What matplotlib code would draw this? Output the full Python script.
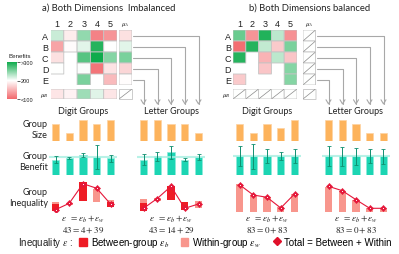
import numpy as np
import matplotlib
matplotlib.use("Agg")
import matplotlib.pyplot as plt
from matplotlib.colors import LinearSegmentedColormap, Normalize
from matplotlib.patches import Patch
from matplotlib.lines import Line2D

plt.rcParams['font.family'] = ['Liberation Sans', 'DejaVu Sans']
plt.rcParams['mathtext.fontset'] = 'stix'

nan = np.nan
digit_labels = ['1', '2', '3', '4', '5']
letter_labels = ['A', 'B', 'C', 'D', 'E']

# ---------------- data ----------------
benefit_a = np.array([
    [222, 188, 245, 118, 130],
    [140, 197, 212, 290, 200],
    [180, nan, 270, 308, 250],
    [200, nan, 202, 110, 182],
    [nan, nan, 255, nan, 155],
])
mu_letter_a = np.array([180, 212, 255, 172, 198])
mu_digit_a = np.array([183, 192, 240, 213, 183])

benefit_b = np.array([
    [262, 130, 292, 228, 128],
    [105, 290, 225, 165, 255],
    [290, nan, 150, 228, 162],
    [nan, nan, 162, nan, 250],
    [165, nan, nan, nan, 250],
])

size_a_digit = [4, 2, 5, 4, 5]
size_a_letter = [5, 5, 4, 4, 2]
size_b_digit = [4, 2, 4, 3, 5]
size_b_letter = [5, 5, 4, 2, 2]

mean_a_digit = [176, 192, 230, 204, 192]
err_a_digit = [38, 12, 20, 140, 42]
mean_a_letter = [176, 215, 261, 176, 207]
err_a_letter = [63, 54, 73, 17, 40]
overall_a = 210
mean_b_digit = [215, 215, 215, 215, 215]
err_b_digit = [115, 144, 80, 46, 80]
mean_b_letter = [215, 215, 215, 215, 215]
err_b_letter = [115, 110, 100, 80, 85]
overall_b = 215

total_a_digit = [2.3, 8.7, 28.3, 23.7, 8.0]
between_lo_a_digit = [0.7, 0, 11.3, 0, 4.7]
between_hi_a_digit = [8.0, 0, 29.7, 0, 10.0]
within_lo_a_digit = [8.0, 7.5, 0, 10.3, 10.0]
within_hi_a_digit = [10.3, 9.5, 0, 23.0, 12.3]

total_a_letter = [3.7, 13.5, 25.7, 3.7, 8.0]
between_lo_a_letter = [0.7, 0, 12.3, 2.3, 0]
between_hi_a_letter = [9.0, 0, 25.7, 10.3, 0]
within_lo_a_letter = [9.0, 11.5, 0, 0, 4.5]
within_hi_a_letter = [13.0, 14.5, 0, 0, 11.0]

total_b_digit = [27.3, 17.0, 14.7, 4.0, 18.0]
within_hi_b_digit = [28.0, 16.3, 14.7, 4.7, 18.0]
total_b_letter = [25.7, 21.3, 12.3, 3.7, 3.7]
within_hi_b_letter = [24.7, 21.3, 12.3, 3.7, 3.7]
zeros = [0, 0, 0, 0, 0]

eps_total = [43, 43, 83, 83]
eps_between = [4, 14, 0, 0]
eps_within = [39, 29, 83, 83]

# ---------------- style ----------------
W, H = 399, 255
fig = plt.figure(figsize=(W / 100, H / 100), dpi=100)
cmap = LinearSegmentedColormap.from_list('ben', ['#f2676b', '#ffffff', '#0eab4c'])
norm = Normalize(100, 300)
EDGE = '#c4c4c4'
ORANGE = '#fdb35c'
TEAL = '#1cd5b3'
DARK_RED = '#ee1c25'
LIGHT_RED = '#f8968d'
TXT = '#222222'
GRAY = '#a8a8a8'
CAL = ['Lato', 'DejaVu Sans']


def px_box(x0, y0, x1, y1):
    return [x0 / W, 1 - y1 / H, (x1 - x0) / W, (y1 - y0) / H]


ax0 = fig.add_axes([0, 0, 1, 1])
ax0.set_xlim(0, W)
ax0.set_ylim(H, 0)
ax0.axis('off')


def heat(box, data, xlabels=None, ylabels=None, hatched=False, xfs=6.5, yfs=6.5):
    ax = fig.add_axes(px_box(*box))
    ax.patch.set_alpha(0)
    nrow, ncol = data.shape
    if hatched:
        ax.pcolor(np.full(data.shape, 200.0), cmap=cmap, norm=norm,
                  edgecolors=EDGE, linewidth=0.6)
        for i in range(nrow):
            for j in range(ncol):
                ax.plot([j + 0.05, j + 0.95], [i + 0.95, i + 0.05],
                        color='#8a8a8a', lw=0.5)
    else:
        ax.pcolor(np.ma.masked_invalid(data), cmap=cmap, norm=norm,
                  edgecolors=EDGE, linewidth=0.6)
    ax.set_xlim(0, ncol)
    ax.set_ylim(nrow, 0)
    for s in ax.spines.values():
        s.set_visible(False)
    ax.xaxis.tick_top()
    if xlabels is not None:
        ax.set_xticks(np.arange(ncol) + 0.5)
        ax.set_xticklabels(xlabels, fontsize=xfs, color=TXT)
    else:
        ax.set_xticks([])
    if ylabels is not None:
        ax.set_yticks(np.arange(nrow) + 0.5)
        ax.set_yticklabels(ylabels, fontsize=yfs, color=TXT)
    else:
        ax.set_yticks([])
    ax.tick_params(length=0, pad=1.5)
    return ax


# panel a heatmaps
heat((50.5, 31, 117, 86), benefit_a, digit_labels, letter_labels)
heat((119, 31, 132, 86), mu_letter_a.reshape(5, 1), [r'$\mu_A$'], xfs=5)
heat((50.5, 90, 117, 100), mu_digit_a.reshape(1, 5), None, [r'$\mu_B$'], yfs=5)
heat((119, 90, 132, 100), np.full((1, 1), 200.0), hatched=True)
# panel b heatmaps
heat((233, 31, 297, 86), benefit_b, digit_labels, letter_labels)
heat((303, 31, 315.5, 86), np.full((5, 1), 200.0), [r'$\mu_A$'], hatched=True, xfs=5)
heat((233, 90, 297, 100), np.full((1, 5), 200.0), None, [r'$\mu_B$'], hatched=True, yfs=5)
heat((303, 90, 315.5, 100), np.full((1, 1), 200.0), hatched=True)

# colorbar
cax = fig.add_axes(px_box(7, 63, 17, 100))
cb = fig.colorbar(plt.cm.ScalarMappable(norm=norm, cmap=cmap), cax=cax)
cb.outline.set_visible(False)
cb.set_ticks([300, 200, 100])
cb.set_ticklabels(['>300', '200', '<100'])
cax.tick_params(labelsize=4, length=2, width=0.5, pad=0.5, colors=TXT)
ax0.text(20, 57, 'Benefits', fontsize=4.5, ha='center', va='center', color=TXT)

# connectors
row_y = [36.5, 47.5, 58.5, 69.5, 80.5]
ends_a = [198.5, 185, 171, 157.5, 143.5]
ends_b = [383.5, 369.5, 356, 342.5, 328.5]
for ry, ea, eb in zip(row_y, ends_a, ends_b):
    for xs, xe in ((132.5, ea), (316.5, eb)):
        ax0.annotate('', xy=(xe, 106), xytext=(xs, ry),
                     arrowprops=dict(arrowstyle='->,head_length=0.5,head_width=0.3',
                                     connectionstyle='angle,angleA=0,angleB=90,rad=0',
                                     color=GRAY, lw=0.8, shrinkA=0, shrinkB=0,
                                     mutation_scale=6))

# titles
ax0.text(109, 8, 'a) Both Dimensions  Imbalanced', fontsize=6.8, ha='center',
         va='center', color=TXT, family=CAL)
ax0.text(310, 8, 'b) Both Dimensions balanced', fontsize=6.8, ha='center',
         va='center', color=TXT, family=CAL)

# group headers
for xc, lab in ((83, 'Digit Groups'), (171, 'Letter Groups'),
                (267, 'Digit Groups'), (356, 'Letter Groups')):
    ax0.text(xc, 112, lab, fontsize=6.5, ha='center', va='center', color=TXT, family=CAL)

for yc, lab in ((130, 'Group\nSize'), (161.7, 'Group\nBenefit'), (197.8, 'Group\nInequality')):
    ax0.text(48, yc, lab, fontsize=6.5, ha='right', va='center', color=TXT,
             family=CAL, multialignment='right', linespacing=1.25)

centers = [55.5, 143.5, 239.5, 328.5]
sizes = [size_a_digit, size_a_letter, size_b_digit, size_b_letter]
means = [mean_a_digit, mean_a_letter, mean_b_digit, mean_b_letter]
errs = [err_a_digit, err_a_letter, err_b_digit, err_b_letter]
overalls = [overall_a, overall_a, overall_b, overall_b]
totals = [total_a_digit, total_a_letter, total_b_digit, total_b_letter]
b_lo = [between_lo_a_digit, between_lo_a_letter, zeros, zeros]
b_hi = [between_hi_a_digit, between_hi_a_letter, zeros, zeros]
w_lo = [within_lo_a_digit, within_lo_a_letter, zeros, zeros]
w_hi = [within_hi_a_digit, within_hi_a_letter, within_hi_b_digit, within_hi_b_letter]

x = np.arange(5)
bw = 0.52


def sub_ax(xc, y0, y1, ylim):
    a = fig.add_axes(px_box(xc - 6.875, y0, xc - 6.875 + 68.75, y1))
    a.set_xlim(-0.5, 4.5)
    a.set_ylim(*ylim)
    a.axis('off')
    return a


for k in range(4):
    xc = centers[k]
    a = sub_ax(xc, 119, 142.3, (0, 5.4))
    a.bar(x, sizes[k], width=bw, color=ORANGE, edgecolor='#fdd3a2', lw=0.5)

    a = sub_ax(xc, 144, 176, (0, 368))
    a.bar(x, means[k], width=bw, color=TEAL, edgecolor='#8eeadb', lw=0.5, zorder=2)
    a.axhline(overalls[k], color='#a6efe2', lw=1.5, alpha=0.8, zorder=3)
    a.errorbar(x, means[k], yerr=errs[k], fmt='none', ecolor='#0f8f70',
               elinewidth=0.7, capsize=1.2, capthick=0.6, zorder=4)

    a = sub_ax(xc, 180, 213, (0, 33))
    bl, bh = np.array(b_lo[k]), np.array(b_hi[k])
    wl, wh = np.array(w_lo[k]), np.array(w_hi[k])
    a.bar(x, bh - bl, bottom=bl, width=bw, color=DARK_RED, lw=0, zorder=2)
    a.bar(x, wh - wl, bottom=wl, width=bw, color=LIGHT_RED, lw=0, zorder=2)
    a.plot(x, totals[k], color='#e5173a', lw=0.8, marker='D', ms=3.2,
           mfc='#e5173a', mec='#e5173a', mew=0.3, zorder=3)
    a.plot(x, totals[k], ls='none', marker='o', ms=0.7, mew=0, color='white', zorder=4)

    xm = xc + 2 * 13.75
    ax0.text(xm, 219, r'$\varepsilon\ \ =\varepsilon_b+\varepsilon_w$', fontsize=6.6,
             ha='center', va='center', color=TXT)
    ax0.text(xm, 230, r'$%d = %d + %d$' % (eps_total[k], eps_between[k], eps_within[k]),
             fontsize=6.6, ha='center', va='center', color=TXT)

# legend
ax0.text(18, 243, r'Inequality $\varepsilon$ :', fontsize=7, ha='left', va='center', color=TXT)
handles = [Patch(color=DARK_RED), Patch(color=LIGHT_RED),
           Line2D([], [], ls='none', marker='D', ms=4, color='#e0102a')]
labels = [r'Between-group $\varepsilon_b$', r'Within-group $\varepsilon_w$',
          'Total = Between + Within']
fig.legend(handles, labels, loc='center left', bbox_to_anchor=(79 / W, 1 - 243 / H),
           ncol=3, frameon=False, fontsize=7, handlelength=0.8, handleheight=0.9,
           handletextpad=0.4, columnspacing=1.2, borderpad=0, borderaxespad=0)

fig.savefig('out.png', dpi=100)
